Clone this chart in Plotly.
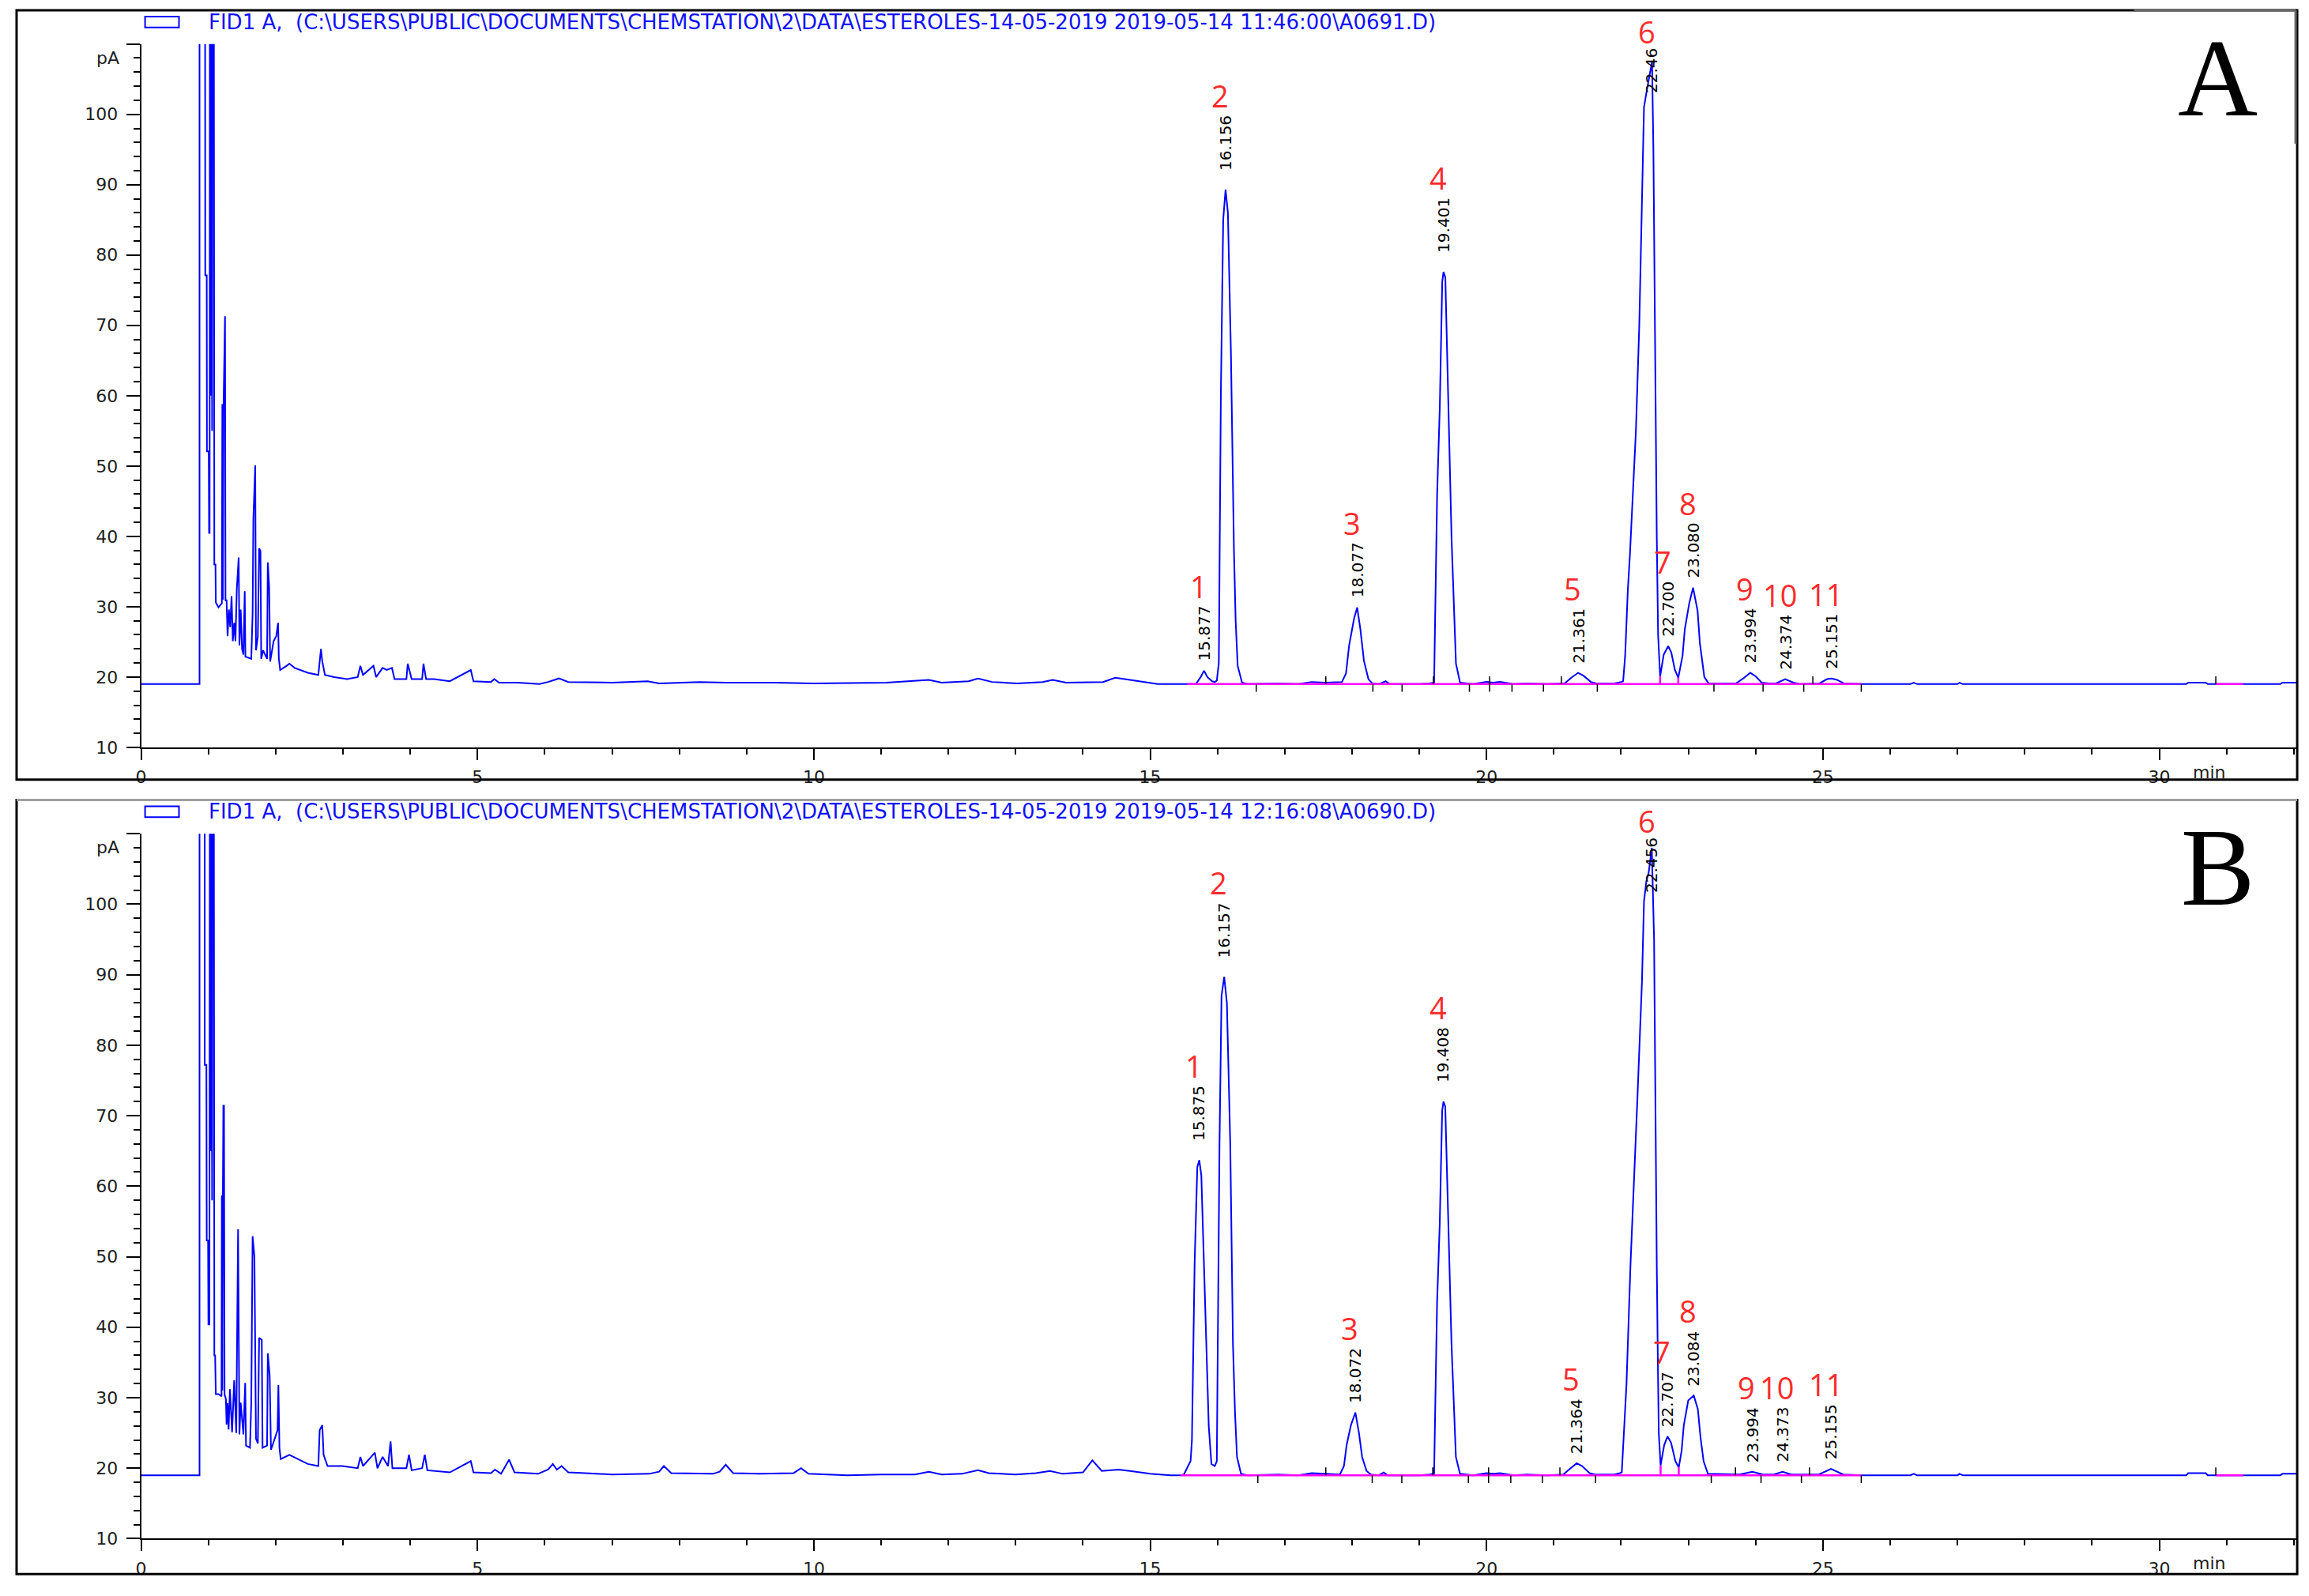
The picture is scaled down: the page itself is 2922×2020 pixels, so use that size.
import plotly.graph_objects as go

W, H = 2922, 2020
OFF = 8  # the page body margin shifts the figure by 8 px

# ---------------- run A (A0691.D) ----------------
A_HEADER = ("FID1 A,  (C:\\USERS\\PUBLIC\\DOCUMENTS\\CHEMSTATION\\2\\DATA\\ESTEROLES-14-05-2019 "
            "2019-05-14 11:46:00\\A0691.D)")

# (time min, signal pA)
A_EARLY = [
    (0.0, 19.0), (0.868, 19.0), (0.868, 130), (0.950, 130), (0.953, 77.1), (0.975, 77.1),
    (0.978, 52.1), (1.005, 52.1), (1.010, 40.5), (1.018, 40.5), (1.022, 130), (1.035, 60.0),
    (1.042, 130), (1.055, 55.0), (1.062, 130), (1.080, 130), (1.088, 36.0), (1.105, 36.0),
    (1.110, 30.6), (1.150, 29.9), (1.200, 30.5), (1.207, 58.8), (1.215, 31.0), (1.225, 58.8),
    (1.239, 71.3), (1.247, 71.3), (1.254, 30.9), (1.270, 30.9), (1.285, 25.8), (1.305, 29.6),
    (1.324, 27.1), (1.344, 31.5), (1.363, 25.1), (1.383, 27.7), (1.402, 25.1), (1.422, 32.5),
    (1.450, 37.0), (1.461, 24.5), (1.480, 29.6), (1.500, 24.0), (1.520, 23.2), (1.540, 32.2),
    (1.550, 22.9), (1.637, 22.6), (1.657, 29.0), (1.668, 42.4), (1.696, 50.1), (1.707, 23.8),
    (1.735, 25.8), (1.754, 38.3), (1.774, 37.9), (1.785, 22.6), (1.813, 23.8), (1.872, 22.6),
    (1.883, 36.3), (1.903, 32.8), (1.918, 22.2), (1.969, 25.1), (2.008, 25.8), (2.036, 27.7),
    (2.047, 22.6), (2.067, 21.0), (2.164, 21.6), (2.204, 21.9), (2.282, 21.3), (2.478, 20.6),
    (2.634, 20.3), (2.673, 24.0), (2.693, 22.2), (2.732, 20.3), (2.869, 20.0), (3.063, 19.7),
    (3.220, 20.0), (3.259, 21.6), (3.298, 20.3), (3.454, 21.6), (3.493, 20.0), (3.590, 21.3),
    (3.650, 21.0), (3.728, 21.3), (3.767, 19.7), (3.943, 19.7), (3.963, 21.9), (4.021, 19.7),
    (4.177, 19.7), (4.197, 21.9), (4.236, 19.7), (4.353, 19.7), (4.588, 19.4), (4.900, 21.0),
    (4.940, 19.4),
]
A_MID = [
    (5.20, 19.3), (5.25, 19.7), (5.32, 19.2), (5.6, 19.2), (5.92, 19.0), (6.05, 19.3),
    (6.21, 19.8), (6.35, 19.3), (7.0, 19.2), (7.53, 19.4), (7.7, 19.1), (8.3, 19.3),
    (8.69, 19.2), (9.42, 19.2), (10.0, 19.1), (11.08, 19.2), (11.71, 19.6), (11.9, 19.2),
    (12.3, 19.4), (12.44, 19.8), (12.65, 19.3), (13.02, 19.1), (13.4, 19.3), (13.55, 19.6),
    (13.75, 19.2), (14.3, 19.3), (14.48, 19.9), (14.7, 19.6), (15.11, 19.0), (15.55, 19.0),
]
A_PEAKS = [
    (15.68, 19.0), (15.75, 20.0), (15.80, 20.9), (15.85, 20.0), (15.92, 19.4), (15.96, 19.3),
    (15.99, 19.5), (16.02, 22.0), (16.05, 60.0), (16.085, 85.0), (16.12, 89.3), (16.155, 86.0),
    (16.20, 66.0), (16.245, 38.0), (16.27, 28.0), (16.30, 21.6), (16.365, 19.2), (16.45, 19.0),
    (16.9, 19.1), (17.2, 19.0), (17.4, 19.3), (17.6, 19.2),
    (17.85, 19.3), (17.91, 20.5), (17.957, 24.5), (18.03, 28.3), (18.077, 29.9), (18.124, 26.8),
    (18.177, 22.3), (18.244, 19.7), (18.30, 19.1), (18.40, 19.0), (18.50, 19.4), (18.56, 19.0),
    (19.0, 19.0), (19.15, 19.1),
    (19.22, 19.2), (19.265, 45.9), (19.305, 58.5), (19.341, 76.2), (19.36, 77.6), (19.387, 76.8),
    (19.43, 58.5), (19.48, 39.6), (19.545, 21.9), (19.606, 19.2),
    (19.8, 19.0), (20.0, 19.3), (20.1, 19.2), (20.2, 19.3), (20.4, 19.0), (20.6, 19.1), (20.9, 19.0),
    (21.16, 19.1), (21.26, 19.9), (21.361, 20.6), (21.44, 20.2), (21.55, 19.3), (21.63, 19.1),
    (21.9, 19.1), (22.0, 19.3),
    (22.03, 19.4), (22.06, 23.0), (22.10, 32.4), (22.13, 37.2), (22.17, 45.4), (22.22, 55.0),
    (22.27, 70.0), (22.31, 88.0), (22.34, 101.0), (22.38, 103.3), (22.43, 106.0), (22.46, 107.5),
    (22.48, 95.0), (22.505, 66.0), (22.53, 40.0), (22.55, 26.0), (22.58, 20.1),
    (22.634, 23.2), (22.70, 24.4), (22.746, 23.5), (22.80, 21.0), (22.85, 19.9),
    (22.913, 23.0), (22.947, 26.8), (23.013, 30.5), (23.07, 32.7), (23.137, 29.4), (23.17, 24.9),
    (23.237, 20.0), (23.30, 19.1),
    (23.71, 19.1), (23.83, 19.9), (23.92, 20.6), (24.0, 20.1), (24.09, 19.2), (24.2, 19.1),
    (24.30, 19.1), (24.44, 19.7), (24.56, 19.2), (24.66, 19.0),
    (24.95, 19.1), (25.06, 19.7), (25.13, 19.8), (25.21, 19.6), (25.31, 19.1),
]
A_TAIL = [
    (25.6, 19.0), (26.3, 19.0), (26.35, 19.2), (26.4, 19.0), (27.0, 19.0), (27.03, 19.2),
    (27.08, 19.0), (28.5, 19.0), (30.4, 19.0), (30.43, 19.2), (30.69, 19.2), (30.72, 19.0),
    (31.8, 19.0), (31.83, 19.2), (32.05, 19.2),
]
A_RT = ["15.877", "16.156", "18.077", "19.401", "21.361", "22.46", "22.700", "23.080",
        "23.994", "24.374", "25.151"]
A_APEX_T = [15.80, 16.12, 18.077, 19.36, 21.361, 22.45, 22.70, 23.07, 23.92, 24.44, 25.13]
A_APEX = [20.9, 89.3, 29.9, 77.6, 20.6, 107.5, 24.4, 32.7, 20.6, 19.7, 19.8]
A_BASELINE = 19.0
A_INTEGRATION = [(15.55, 25.57), (30.84, 31.25)]
A_DROPS = [(22.58, 20.1), (22.85, 19.9)]
A_EV_DOWN = [16.576, 18.31, 18.744, 19.745, 20.378, 20.845, 21.646, 23.38, 24.11, 24.715, 25.57]
A_EV_UP = [17.61, 19.21, 21.112, 24.85, 30.84]
A_EV_BOTH = [20.045]

# ---------------- run B (A0690.D) ----------------
B_HEADER = ("FID1 A,  (C:\\USERS\\PUBLIC\\DOCUMENTS\\CHEMSTATION\\2\\DATA\\ESTEROLES-14-05-2019 "
            "2019-05-14 12:16:08\\A0690.D)")

B_EARLY = [
    (0.0, 19.0), (0.868, 19.0), (0.868, 130), (0.945, 130), (0.945, 77.2), (0.970, 77.2),
    (0.975, 52.3), (0.995, 52.3), (1.000, 40.4), (1.015, 40.4), (1.022, 130), (1.035, 65.0),
    (1.042, 130), (1.055, 58.0), (1.062, 130), (1.080, 130), (1.088, 36.0), (1.100, 36.0),
    (1.110, 30.5), (1.150, 30.5), (1.195, 30.2), (1.200, 58.7), (1.207, 31.0), (1.215, 58.7),
    (1.222, 71.4), (1.232, 71.4), (1.240, 30.5), (1.260, 29.8), (1.270, 26.2), (1.285, 29.2),
    (1.300, 25.5), (1.320, 31.2), (1.352, 25.1), (1.383, 32.5), (1.414, 25.0), (1.441, 53.9),
    (1.461, 24.8), (1.480, 29.3), (1.520, 24.8), (1.547, 32.1), (1.559, 23.2), (1.618, 22.9),
    (1.637, 29.3), (1.657, 52.9), (1.684, 50.0), (1.707, 24.2), (1.735, 23.5), (1.754, 38.5),
    (1.793, 38.2), (1.805, 22.9), (1.872, 23.2), (1.883, 36.3), (1.911, 33.1), (1.930, 22.6),
    (1.989, 24.2), (2.028, 25.4), (2.040, 31.8), (2.056, 22.9), (2.075, 21.3), (2.204, 21.9),
    (2.478, 20.6), (2.634, 20.3), (2.654, 25.4), (2.693, 26.1), (2.712, 21.9), (2.771, 20.3),
    (2.986, 20.3), (3.220, 20.0), (3.259, 21.6), (3.298, 20.3), (3.474, 22.2), (3.513, 20.0),
    (3.590, 21.6), (3.670, 20.3), (3.708, 23.8), (3.735, 20.0), (3.943, 20.0), (3.982, 21.9),
    (4.021, 19.7), (4.177, 20.0), (4.216, 21.9), (4.255, 19.7), (4.588, 19.4), (4.900, 21.0),
    (4.940, 19.4),
]
B_MID = [
    (5.20, 19.3), (5.26, 19.8), (5.35, 19.2), (5.47, 21.2), (5.55, 19.4), (5.9, 19.2),
    (6.05, 19.8), (6.12, 20.6), (6.18, 19.8), (6.25, 20.3), (6.35, 19.4), (6.6, 19.3),
    (7.0, 19.1), (7.55, 19.2), (7.7, 19.5), (7.77, 20.3), (7.88, 19.3), (8.5, 19.2),
    (8.6, 19.5), (8.69, 20.5), (8.8, 19.3), (9.2, 19.2), (9.7, 19.3), (9.81, 20.0),
    (9.92, 19.2), (10.5, 19.0), (11.0, 19.1), (11.5, 19.1), (11.71, 19.5), (11.9, 19.1),
    (12.2, 19.2), (12.44, 19.7), (12.6, 19.3), (13.0, 19.1), (13.3, 19.3), (13.51, 19.6),
    (13.7, 19.2), (14.0, 19.4), (14.14, 21.1), (14.28, 19.6), (14.53, 19.8), (14.7, 19.6),
    (15.0, 19.2), (15.3, 19.0), (15.45, 19.0),
]
B_PEAKS = [
    (15.50, 19.1), (15.60, 21.0), (15.62, 23.9), (15.66, 49.0), (15.70, 62.7), (15.73, 63.7),
    (15.76, 61.5), (15.80, 49.0), (15.87, 26.0), (15.91, 20.6), (15.96, 20.3),
    (15.99, 21.0), (16.03, 66.0), (16.06, 87.0), (16.10, 89.7), (16.14, 86.0), (16.19, 66.0),
    (16.23, 37.6), (16.26, 28.0), (16.29, 21.6), (16.35, 19.2), (16.45, 19.0),
    (16.9, 19.1), (17.2, 19.0), (17.4, 19.3), (17.6, 19.2),
    (17.82, 19.1), (17.88, 20.3), (17.92, 23.3), (17.984, 26.1), (18.05, 27.9), (18.103, 25.0),
    (18.15, 21.6), (18.216, 19.6), (18.28, 19.1), (18.40, 19.0), (18.47, 19.4), (18.53, 19.0),
    (19.0, 19.0), (19.15, 19.1),
    (19.22, 19.2), (19.264, 43.3), (19.304, 54.7), (19.34, 70.7), (19.36, 72.0), (19.386, 71.3),
    (19.429, 54.7), (19.479, 37.6), (19.544, 21.6), (19.605, 19.2),
    (19.8, 19.0), (20.0, 19.3), (20.1, 19.2), (20.2, 19.3), (20.4, 19.0), (20.6, 19.1), (20.9, 19.0),
    (21.14, 19.1), (21.24, 19.9), (21.34, 20.7), (21.42, 20.3), (21.53, 19.3), (21.61, 19.1),
    (21.9, 19.1), (21.98, 19.3),
    (22.01, 19.4), (22.08, 31.9), (22.14, 49.0), (22.24, 71.9), (22.31, 89.0), (22.34, 100.4),
    (22.376, 103.3), (22.41, 104.5), (22.456, 108.0), (22.49, 95.0), (22.51, 66.0), (22.53, 49.0),
    (22.545, 36.0), (22.56, 25.0), (22.587, 20.4),
    (22.641, 23.3), (22.69, 24.5), (22.743, 23.6), (22.807, 21.0), (22.857, 20.1),
    (22.90, 22.5), (22.932, 26.1), (22.998, 29.6), (23.08, 30.3), (23.14, 28.4), (23.18, 24.4),
    (23.226, 21.0), (23.29, 19.2),
    (23.76, 19.1), (23.95, 19.5), (24.11, 19.1), (24.27, 19.1), (24.40, 19.5), (24.53, 19.1),
    (24.94, 19.1), (25.12, 19.9), (25.30, 19.1),
]
B_TAIL = [
    (25.6, 19.0), (26.3, 19.0), (26.35, 19.2), (26.4, 19.0), (27.0, 19.0), (27.03, 19.2),
    (27.08, 19.0), (28.5, 19.0), (30.4, 19.0), (30.43, 19.3), (30.69, 19.3), (30.72, 19.0),
    (31.8, 19.0), (31.83, 19.2), (32.05, 19.2),
]
B_RT = ["15.875", "16.157", "18.072", "19.408", "21.364", "22.456", "22.707", "23.084",
        "23.994", "24.373", "25.155"]
B_APEX_T = [15.73, 16.10, 18.05, 19.36, 21.34, 22.45, 22.69, 23.08, 23.95, 24.40, 25.12]
B_APEX = [63.7, 89.7, 27.9, 72.0, 20.7, 108.0, 24.5, 30.3, 19.5, 19.5, 19.9]
B_BASELINE = 19.0
B_INTEGRATION = [(15.45, 25.57), (30.84, 31.25)]
B_DROPS = [(22.587, 20.4), (22.857, 20.1)]
B_EV_DOWN = [16.6, 18.3, 18.74, 19.73, 20.36, 20.83, 21.62, 23.34, 24.08, 24.68, 25.57]
B_EV_UP = [17.61, 19.2, 21.09, 23.7, 24.8, 30.84]
B_EV_BOTH = [20.03]

PEAK_NO = ["1", "2", "3", "4", "5", "6", "7", "8", "9", "10", "11"]
X_TICKS = [0, 5, 10, 15, 20, 25, 30]
Y_TICKS = [10, 20, 30, 40, 50, 60, 70, 80, 90, 100, 110]

BLUE = "#0000ff"
MAGENTA = "#ff00ff"
RED = "#ff2b2b"
SANS = "DejaVu Sans, Verdana, sans-serif"
TICKFONT = dict(family=SANS, size=22, color="#1e1e1e")
TICK_LEN = 1.1  # event tick length in pA


def px(x):
    return (x - OFF) / W


def py(y):
    return 1 - (y - OFF) / H


def unzip(*parts):
    xs, ys = [], []
    for part in parts:
        for t, v in part:
            xs.append(t)
            ys.append(v)
    return xs, ys


fig = go.Figure()


def add_panel(n, trace, rts, apex_t, apex, base, integ, drops, ev_down, ev_up, ev_both,
              header, letter, plot_top, plot_bot, frame_top, frame_bot):
    xa = "x" if n == 1 else "x2"
    ya = "y" if n == 1 else "y2"
    xs, ys = unzip(*trace)
    fig.add_trace(go.Scatter(x=xs, y=ys, mode="lines", xaxis=xa, yaxis=ya,
                             line=dict(color=BLUE, width=2), hoverinfo="skip"))

    # integration baseline (magenta)
    mx, my = [], []
    for t0, t1 in integ:
        mx += [t0, t1, None]
        my += [base, base, None]
    for t, v in drops:
        mx += [t, t, None]
        my += [base, v, None]
    fig.add_trace(go.Scatter(x=mx, y=my, mode="lines", xaxis=xa, yaxis=ya,
                             line=dict(color=MAGENTA, width=2.5), hoverinfo="skip"))

    # peak start/stop event ticks
    ex, ey = [], []
    for t in ev_down:
        ex += [t, t, None]
        ey += [base, base - TICK_LEN, None]
    for t in ev_up:
        ex += [t, t, None]
        ey += [base, base + TICK_LEN, None]
    for t in ev_both:
        ex += [t, t, None]
        ey += [base - TICK_LEN, base + TICK_LEN, None]
    fig.add_trace(go.Scatter(x=ex, y=ey, mode="lines", xaxis=xa, yaxis=ya,
                             line=dict(color="black", width=1.5), hoverinfo="skip"))

    # retention time labels and peak numbers
    rt_font = dict(family=SANS, size=20, color="black")
    no_font = dict(family="Open Sans, sans-serif", size=38, color=RED)
    for rt, t, h, no in zip(rts, apex_t, apex, PEAK_NO):
        if h > 100:
            fig.add_annotation(x=t, y=110, xref=xa, yref=ya, text=rt, textangle=-90,
                               showarrow=False, yanchor="top", yshift=-3, font=rt_font)
            fig.add_annotation(x=t, y=110, xref=xa, yref=ya, text=no, showarrow=False,
                               yanchor="middle", xshift=-6, yshift=16, font=no_font)
        else:
            gap = 22 if h > 50 else 10
            fig.add_annotation(x=t, y=h, xref=xa, yref=ya, text=rt, textangle=-90,
                               showarrow=False, yanchor="bottom", yshift=gap, font=rt_font)
            fig.add_annotation(x=t, y=h, xref=xa, yref=ya, text=no, showarrow=False,
                               yanchor="middle", xshift=-7, yshift=gap + 97, font=no_font)

    # y unit and x unit
    fig.add_annotation(x=0, y=110, xref=xa, yref=ya, text="pA", showarrow=False,
                       xanchor="right", yanchor="top", xshift=-26, yshift=-3, font=TICKFONT)
    fig.add_annotation(x=30.74, y=0, xref=xa, yref=ya + " domain", text="min", showarrow=False,
                       xanchor="center", yanchor="top", yshift=-17, font=TICKFONT)

    # header line with legend swatch
    hy = frame_top + 15
    fig.add_shape(type="rect", xref="paper", yref="paper", x0=px(177), x1=px(220),
                  y0=py(hy - 7), y1=py(hy + 7), line=dict(color=BLUE, width=2))
    fig.add_annotation(x=px(256), y=py(hy), xref="paper", yref="paper", text=header,
                       showarrow=False, xanchor="left", yanchor="middle",
                       font=dict(family=SANS, size=26, color="#1010ff"))

    # panel letter
    fig.add_annotation(x=px(2806), y=py(frame_top + 86), xref="paper", yref="paper", text=letter,
                       showarrow=False, xanchor="center", yanchor="middle",
                       font=dict(family="Liberation Serif, Times New Roman", size=140, color="black"))

    # outer frame
    fig.add_shape(type="rect", xref="paper", yref="paper", x0=px(14), x1=px(2907),
                  y0=py(frame_bot), y1=py(frame_top), line=dict(color="black", width=3))

    axis_common = dict(showline=True, linecolor="black", linewidth=2, showgrid=False,
                       zeroline=False, ticks="outside", tickcolor="black", tickwidth=2,
                       tickfont=TICKFONT)
    fig.update_layout(**{
        ("xaxis" if n == 1 else "xaxis2"): dict(
            axis_common, domain=[px(172), px(2907)], range=[0, 32.05], anchor=ya,
            tickmode="array", tickvals=X_TICKS, ticklen=14, ticklabelstandoff=3,
            minor=dict(dtick=1, tick0=0, ticks="outside", ticklen=7, tickwidth=2,
                       tickcolor="black", showgrid=False)),
        ("yaxis" if n == 1 else "yaxis2"): dict(
            axis_common, domain=[py(plot_bot), py(plot_top)], range=[10, 110], anchor=xa,
            tickmode="array", tickvals=Y_TICKS,
            ticktext=[str(v) if v < 110 else "" for v in Y_TICKS],
            ticklen=17, ticklabelstandoff=6,
            minor=dict(dtick=2, tick0=0, ticks="outside", ticklen=8, tickwidth=2,
                       tickcolor="black", showgrid=False)),
    })


add_panel(1, [A_EARLY, A_MID, A_PEAKS, A_TAIL], A_RT, A_APEX_T, A_APEX, A_BASELINE,
          A_INTEGRATION, A_DROPS, A_EV_DOWN, A_EV_UP, A_EV_BOTH, A_HEADER, "A", 56, 952, 13, 993)
add_panel(2, [B_EARLY, B_MID, B_PEAKS, B_TAIL], B_RT, B_APEX_T, B_APEX, B_BASELINE,
          B_INTEGRATION, B_DROPS, B_EV_DOWN, B_EV_UP, B_EV_BOTH, B_HEADER, "B", 1062, 1960, 1019, 2005)

# scanner artefacts on the frame edges
fig.add_shape(type="line", xref="paper", yref="paper", x0=px(2700), x1=px(2905),
              y0=py(13), y1=py(13), line=dict(color="#666666", width=3))
fig.add_shape(type="line", xref="paper", yref="paper", x0=px(2905), x1=px(2905),
              y0=py(13), y1=py(183), line=dict(color="#666666", width=3))
fig.add_shape(type="line", xref="paper", yref="paper", x0=px(14), x1=px(2907),
              y0=py(1019), y1=py(1019), line=dict(color="#a0a0a0", width=3))

fig.update_layout(
    width=W, height=H,
    margin=dict(l=0, r=0, t=0, b=0),
    paper_bgcolor="white", plot_bgcolor="white",
    showlegend=False,
)

fig.write_html("out.html", config=dict(displayModeBar=False))
